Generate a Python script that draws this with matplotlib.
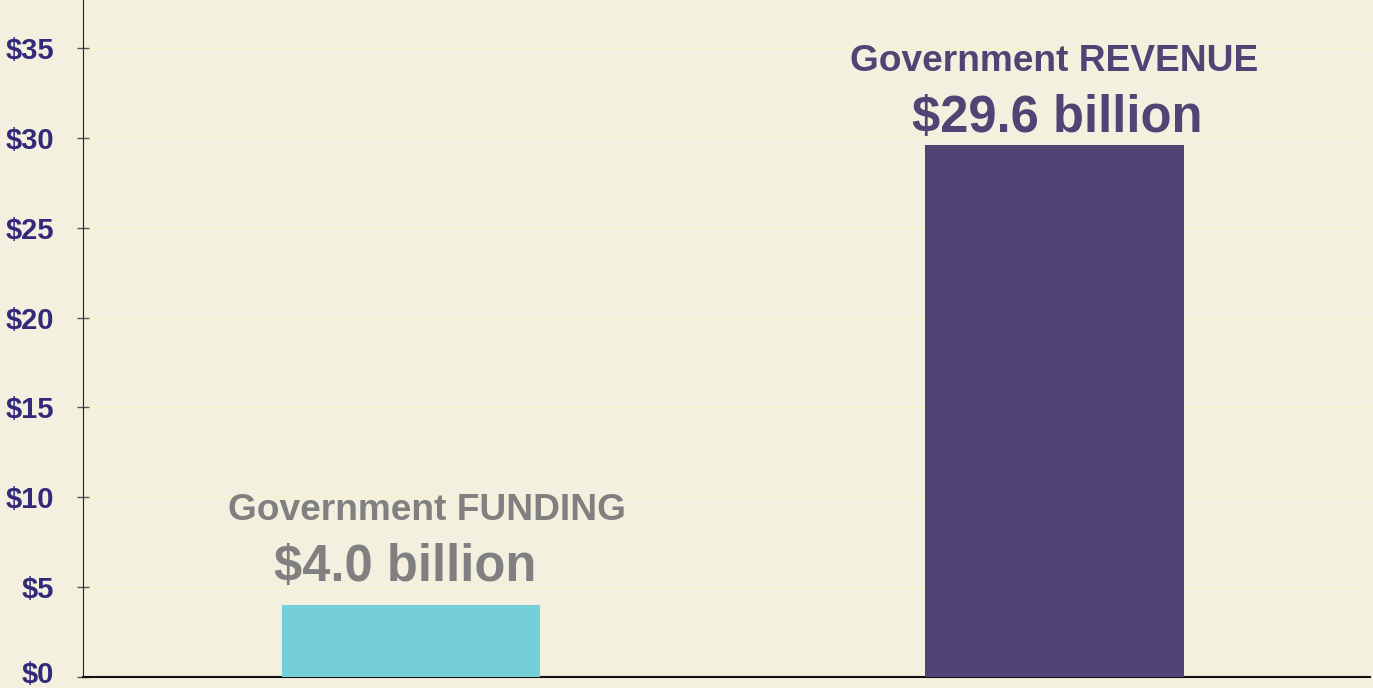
import numpy as np
import matplotlib
matplotlib.use("Agg")
import matplotlib.pyplot as plt
from matplotlib.transforms import ScaledTranslation

# data
categories = ["Government FUNDING", "Government REVENUE"]
values = [4.0, 29.6]
value_labels = ["$4.0 billion", "$29.6 billion"]
yticks = [0, 5, 10, 15, 20, 25, 30, 35]
ytick_labels = ["$0", "$5", "$10", "$15", "$20", "$25", "$30", "$35"]

bg = "#F4F0E0"
bar_colors = ["#75CFD8", "#4F4474"]
text_colors = ["#808080", "#4F4474"]
tick_color = "#33297A"

plt.rcParams['font.family'] = ['Liberation Sans', 'DejaVu Sans']

fig = plt.figure(figsize=(13.73, 6.88), dpi=100)
fig.patch.set_facecolor(bg)
ax = fig.add_axes([0.0605, 0.016, 0.937, 0.984])
ax.set_facecolor(bg)

x = np.arange(len(categories))
ax.bar(x, values, width=0.402, color=bar_colors, zorder=3)

ax.set_xlim(-0.51, 1.49)
ax.set_ylim(0, 37.67)
ax.set_xticks([])
ax.set_yticks(yticks)
ax.set_yticklabels(ytick_labels, fontsize=21, fontweight='bold', color=tick_color)
ax.tick_params(axis='y', direction='inout', length=8, width=1, pad=17, colors='#555555',
               labelcolor=tick_color)
ax.grid(axis='y', color='#F5F3C8', linewidth=1, zorder=0)

# nudge the "$0" label up so it is not clipped at the bottom edge
zero_lbl = ax.yaxis.get_major_ticks()[0].label1
zero_lbl.set_transform(zero_lbl.get_transform() + ScaledTranslation(0, 0.05, fig.dpi_scale_trans))

for s in ['top', 'right']:
    ax.spines[s].set_visible(False)
ax.spines['left'].set_color('#222222')
ax.spines['bottom'].set_color('#111111')
ax.spines['bottom'].set_linewidth(1.5)

# labels above bars
name_offsets = [5.25, 4.65]
value_offsets = [2.08, 1.5]
name_dx = [0.024, 0.0]
value_dx = [-0.009, 0.005]
for i in range(len(categories)):
    ax.text(x[i] + name_dx[i], values[i] + name_offsets[i], categories[i], ha='center', va='center',
            fontsize=26.7, fontweight='bold', color=text_colors[i], zorder=4)
    ax.text(x[i] + value_dx[i], values[i] + value_offsets[i], value_labels[i], ha='center', va='center',
            fontsize=36.5, fontweight='bold', color=text_colors[i], zorder=4)

fig.savefig("out.png", dpi=100, facecolor=bg)
